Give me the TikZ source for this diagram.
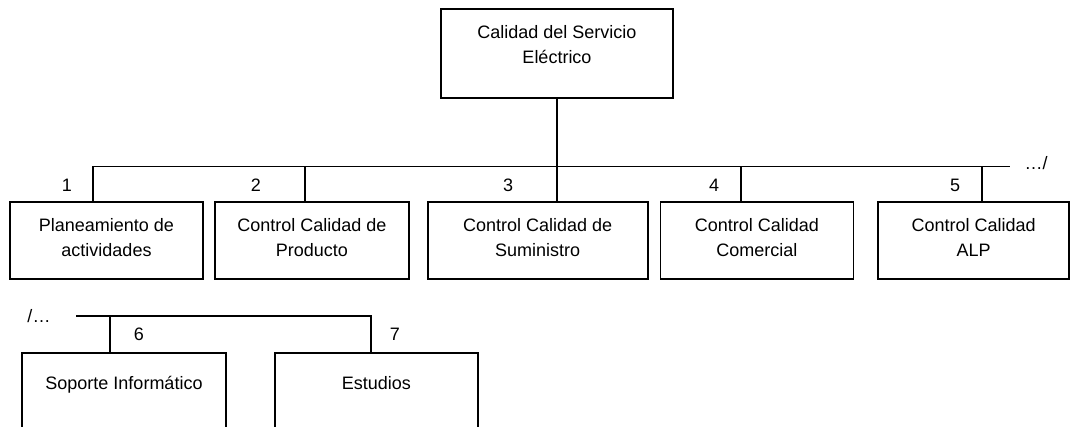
\documentclass[tikz,border=0pt]{standalone}
\usepackage{fontspec}
\setmainfont{Liberation Sans}
\usetikzlibrary{positioning}

\begin{document}
\begin{tikzpicture}[x=1pt,y=-1pt,line width=1.8pt,
  box/.style={draw,rectangle,inner sep=0pt,minimum height=77pt},
  txt/.style={anchor=base,align=center,inner sep=0pt,font=\fontsize{18}{25}\selectfont},
  num/.style={anchor=base,inner sep=0pt,font=\fontsize{18}{25}\selectfont}]

  \clip (0,0) rectangle (1090,427);

  \node[box,minimum width=232pt,minimum height=89pt] (Servicio) at (557,53.5) {};
  \node[txt] (ServicioTxt) at ([yshift=-55pt]Servicio.north) {Calidad del Servicio\\Eléctrico};

  % first row
  \node[box,minimum width=193pt] (Planeamiento) at (106.5,240.5) {};
  \node[box,minimum width=194pt] (Producto) [right=10pt of Planeamiento] {};
  \node[box,minimum width=220pt] (Suministro) [right=17pt of Producto] {};
  \node[box,minimum width=193pt] (Comercial) [right=11pt of Suministro] {};
  \node[box,minimum width=191pt] (ALP) [right=23pt of Comercial] {};

  \node[txt] (PlaneamientoTxt) at ([yshift=-55pt]Planeamiento.north) {Planeamiento de\\actividades};
  \node[txt] (ProductoTxt) at ([yshift=-55pt]Producto.north) {Control Calidad de\\Producto};
  \node[txt] (SuministroTxt) at ([yshift=-55pt]Suministro.north) {Control Calidad de\\Suministro};
  \node[txt] (ComercialTxt) at ([yshift=-55pt]Comercial.north) {Control Calidad\\Comercial};
  \node[txt] (ALPTxt) at ([yshift=-55pt]ALP.north) {Control Calidad\\ALP};

  % second row
  \node[box,minimum width=204pt,minimum height=120pt,anchor=north] (Soporte) at (124,352) {};
  \node[box,minimum width=203pt,minimum height=120pt] (Estudios) [right=47pt of Soporte] {};

  \node[txt] (SoporteTxt) at ([yshift=-38pt]Soporte.north) {Soporte Informático};
  \node[txt] (EstudiosTxt) at ([yshift=-38pt]Estudios.north) {Estudios};

  % lines
  \coordinate (BusL) at (93,166.5);
  \coordinate (BusR) at (1010,166.5);
  \coordinate (Drop2) at (305,166.5);
  \coordinate (Drop4) at (741,166.5);
  \coordinate (Drop5) at (982,166.5);
  \coordinate (Bus2L) at (76,316);
  \coordinate (Bus2R) at (371,316);
  \coordinate (Drop6) at (110,316);

  \draw (Servicio.south) -- (Servicio.south |- Suministro.north);
  \draw (BusL |- Planeamiento.north) -- (BusL) -- (BusR);
  \draw (Drop2) -- (Drop2 |- Producto.north);
  \draw (Drop4) -- (Drop4 |- Comercial.north);
  \draw (Drop5) -- (Drop5 |- ALP.north);
  \draw (Bus2L) -- (Bus2R) -- (Bus2R |- Estudios.north);
  \draw (Drop6) -- (Drop6 |- Soporte.north);

  % numbers
  \node[num] (N1) at (67,192) {1};
  \node[num] (N2) at (256,192) {2};
  \node[num] (N3) at (508,192) {3};
  \node[num] (N4) at (714,192) {4};
  \node[num] (N5) at (955,192) {5};
  \node[num] (N6) at (139,341) {6};
  \node[num] (N7) at (395,341) {7};
  \node[num] (ContR) at (1036,170) {…/};
  \node[num] (ContL) at (39,323) {/…};
\end{tikzpicture}
\end{document}
